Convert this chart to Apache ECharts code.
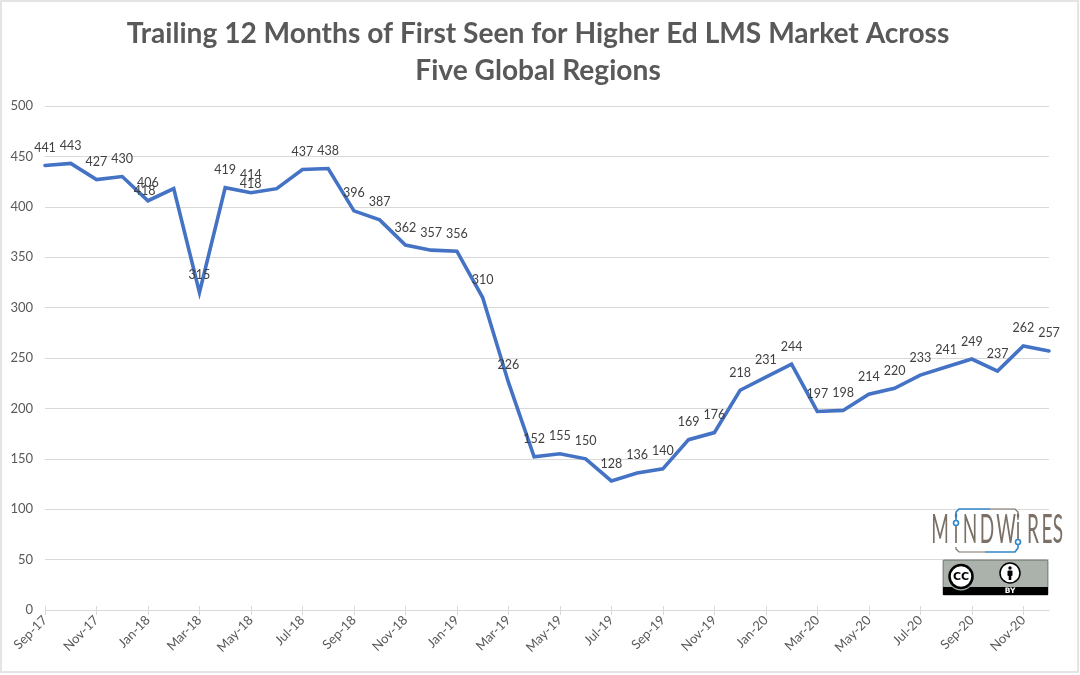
<!DOCTYPE html>
<html><head><meta charset="utf-8">
<style>html,body{margin:0;padding:0;background:#fff}#c{width:1080px;height:675px}</style>
<script src="https://cdn.jsdelivr.net/npm/echarts@6/dist/echarts.min.js"></script>
</head><body><div id="c"></div>
<script>
const months = ['Sep-17','Oct-17','Nov-17','Dec-17','Jan-18','Feb-18','Mar-18','Apr-18','May-18','Jun-18','Jul-18','Aug-18','Sep-18','Oct-18','Nov-18','Dec-18','Jan-19','Feb-19','Mar-19','Apr-19','May-19','Jun-19','Jul-19','Aug-19','Sep-19','Oct-19','Nov-19','Dec-19','Jan-20','Feb-20','Mar-20','Apr-20','May-20','Jun-20','Jul-20','Aug-20','Sep-20','Oct-20','Nov-20','Dec-20'];
const firstSeen = [441,443,427,430,406,418,315,419,414,418,437,438,396,387,362,357,356,310,226,152,155,150,128,136,140,169,176,218,231,244,197,198,214,220,233,241,249,237,262,257];
const titleLines = ['Trailing 12 Months of First Seen for Higher Ed LMS Market Across','Five Global Regions'];
const shiftedLabels = {'Feb-18':[-29,20],'Jun-18':[-26,13]};
const logoLetters = [['M',940],['i',956],['N',970],['D',987],['W',1006],['i',1018],['R',1033],['E',1047],['S',1058]];
const FONT='Lato';
const chart = echarts.init(document.getElementById('c'),null,{renderer:'canvas'});
const gray='#595959';
chart.setOption({
  animation:false,
  backgroundColor:'#fff',
  textStyle:{fontFamily:FONT},
  title:{text:titleLines.join('\n'),left:533,top:11,textAlign:'center',textStyle:{fontFamily:FONT,fontSize:28.15,fontWeight:'bold',color:gray,lineHeight:36.5,align:'center'}},
  grid:{left:45,right:31,top:106,bottom:65,containLabel:false},
  xAxis:[{
    type:'category',data:months,boundaryGap:false,
    axisLine:{lineStyle:{color:'#d9d9d9',width:1}},
    axisTick:{interval:1,length:5,lineStyle:{color:'#d9d9d9'},alignWithLabel:true},
    axisLabel:{interval:1,rotate:45,fontSize:13,color:gray,fontFamily:FONT,margin:8},
    splitLine:{show:false}
  },{
    type:'category',data:months,boundaryGap:false,position:'bottom',
    axisLine:{show:false},
    axisTick:{inside:true,interval:1,length:4,lineStyle:{color:'#d9d9d9'}},
    axisLabel:{show:false},splitLine:{show:false}
  }],
  yAxis:{type:'value',min:0,max:500,interval:50,
    axisLine:{show:false},axisTick:{show:false},
    axisLabel:{fontSize:13,color:gray,fontFamily:FONT,margin:12},
    splitLine:{lineStyle:{color:'#d9d9d9',width:1}}
  },
  series:[{type:'line',data:firstSeen,showSymbol:true,showAllSymbol:true,symbol:'circle',symbolSize:0,smooth:false,
    itemStyle:{color:'#4472C4'},
    lineStyle:{color:'#4472C4',width:3.6,cap:'round',join:'miter'},
    label:{show:true,position:'top',distance:11,fontSize:12.5,color:'#404040',fontFamily:FONT},
    labelLayout:function(p){
      const off=shiftedLabels[months[p.dataIndex]];
      return off?{dx:off[0],dy:off[1],hideOverlap:false}:{hideOverlap:false};
    },
    z:3}],
  graphic:[
    {type:'rect',silent:true,z:-1,shape:{x:1,y:1,width:1077,height:671},style:{fill:'none',stroke:'#e4e4e4',lineWidth:2}},
    // MindWires logo
    ...logoLetters.map(([ch,x])=>({type:'text',z:20,x:x,y:530,scaleY:2.15,style:{text:ch,font:'400 19px "Lato"',fill:'#7a7066',align:'center',verticalAlign:'middle'}})),
    {type:'polyline',z:21,shape:{points:[[990,509],[1015,509],[1018,512],[1018,520]]},style:{fill:'none',stroke:'#7a7066',lineWidth:1.2}},
    {type:'polyline',z:21,shape:{points:[[956,522],[956,512],[959,509],[990,509]]},style:{fill:'none',stroke:'#2f86c9',lineWidth:1.6}},
    {type:'polyline',z:21,shape:{points:[[1018,542],[1018,548],[1015,552],[985,552]]},style:{fill:'none',stroke:'#2f86c9',lineWidth:1.6}},
    {type:'polyline',z:21,shape:{points:[[985,552],[959,552],[956,549],[956,547]]},style:{fill:'none',stroke:'#7a7066',lineWidth:1.2}},
    {type:'circle',z:22,shape:{cx:956,cy:523,r:2.5},style:{fill:'#fff',stroke:'#2f86c9',lineWidth:1.6}},
    {type:'circle',z:22,shape:{cx:1018,cy:542,r:2.5},style:{fill:'#fff',stroke:'#2f86c9',lineWidth:1.6}},
    // CC BY badge
    {type:'rect',z:20,shape:{x:943,y:560,width:105,height:35,r:1},style:{fill:'#aab2ab',stroke:'#222',lineWidth:.5}},
    {type:'rect',z:21,shape:{x:943,y:587,width:105,height:8},style:{fill:'#000'}},
    {type:'text',z:22,x:1010,y:591,style:{text:'BY',font:'bold 7.5px "DejaVu Sans"',fill:'#fff',align:'center',verticalAlign:'middle'}},
    {type:'circle',z:22,shape:{cx:961,cy:577,r:13.5},style:{fill:'#aab2ab'}},
    {type:'circle',z:23,shape:{cx:961,cy:576.5,r:11.5},style:{fill:'#fff',stroke:'#000',lineWidth:2.5}},
    {type:'text',z:24,x:961,y:577,style:{text:'CC',font:'bold 11px "DejaVu Sans"',fill:'#000',align:'center',verticalAlign:'middle'}},
    {type:'circle',z:22,shape:{cx:1010,cy:573,r:10},style:{fill:'#fff',stroke:'#000',lineWidth:1.5}},
    {type:'circle',z:23,shape:{cx:1010,cy:568,r:1.7},style:{fill:'#000'}},
    {type:'rect',z:23,shape:{x:1007.5,y:570.5,width:5,height:5.5,r:1},style:{fill:'#000'}},
    {type:'rect',z:23,shape:{x:1008.7,y:575,width:2.6,height:5},style:{fill:'#000'}}
  ]
});
</script></body></html>
